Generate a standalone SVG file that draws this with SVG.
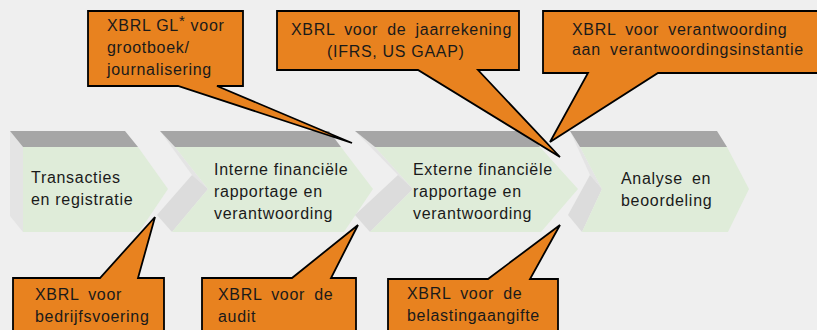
<svg xmlns="http://www.w3.org/2000/svg" width="817" height="330" viewBox="0 0 817 330">
  <style>
    .band { fill: #a6a6a6; }
    .side { fill: #dcdcdc; }
    .side-lt { fill: #e4e4e4; }
    .face { fill: #dfecd9; }
    .label { font-family: "Liberation Sans", Arial, sans-serif; font-size: 16px; fill: #1a1a1a; letter-spacing: 0.7px; }
    .callout { fill: #e8821f; stroke: #000; stroke-width: 1.8; stroke-linejoin: miter; }
    .gap { word-spacing: 4px; }
  </style>

  <rect width="817" height="330" fill="#efefef"/>

  <!-- process chevrons -->
  <g id="step-transacties">
    <polygon class="side-lt" points="10,131 23,147 23,232 10,216"/>
    <polygon class="band" points="10,131 125,131 138,147 23,147"/>
    <polygon class="face" points="23,147 138,147 168,189 139,232 23,232"/>
    <text class="label" x="31" y="183">Transacties</text>
    <text class="label" x="31" y="205">en registratie</text>
  </g>

  <g id="step-intern">
    <polygon class="side-lt" points="160,131 175,147 208,189 192,175"/>
    <polygon class="side" points="192,175 208,189 172,232 157,215"/>
    <polygon class="band" points="160,131 329,131 341,147 175,147"/>
    <polygon class="face" points="175,147 341,147 373,189 344,232 172,232 208,189"/>
    <text class="label" x="214" y="175">Interne financiële</text>
    <text class="label" x="214" y="197">rapportage en</text>
    <text class="label" x="214" y="219">verantwoording</text>
  </g>

  <g id="step-extern">
    <polygon class="side-lt" points="355,131 375,147 413,189 398,175"/>
    <polygon class="side" points="398,175 413,189 370,232 355,215"/>
    <polygon class="band" points="355,131 529,131 540,147 375,147"/>
    <polygon class="face" points="375,147 540,147 578,189 541,232 370,232 413,189"/>
    <text class="label" x="413" y="175">Externe financiële</text>
    <text class="label" x="413" y="197">rapportage en</text>
    <text class="label" x="413" y="219">verantwoording</text>
  </g>

  <g id="step-analyse">
    <polygon class="side-lt" points="570,131 580,147 602,189 590,175"/>
    <polygon class="side" points="590,175 602,189 582,232 568,215"/>
    <polygon class="band" points="570,131 717,131 727,147 580,147"/>
    <polygon class="face" points="580,147 727,147 749,189 728,232 582,232 602,189"/>
    <text class="label" x="621" y="184"><tspan class="gap">Analyse en</tspan></text>
    <text class="label" x="621" y="206">beoordeling</text>
  </g>

  <!-- callouts with pointers -->
  <g id="connectors">
    <g id="note-gl">
      <path class="callout" d="M88,11 H243 V86 H217 L352,143 L178,86 H88 Z"/>
      <text class="label" x="107" y="31">XBRL GL<tspan dy="-5" font-size="15">*</tspan><tspan dy="5"> voor</tspan></text>
      <text class="label" x="107" y="53">grootboek/</text>
      <text class="label" x="107" y="75">journalisering</text>
    </g>

    <g id="note-jaarrekening">
      <path class="callout" d="M277,11 H519 V70 H478 L560,157 L418,70 H277 Z"/>
      <text class="label gap" x="291" y="35">XBRL voor de jaarrekening</text>
      <text class="label" x="327" y="57">(IFRS, US GAAP)</text>
    </g>

    <g id="note-instantie">
      <path class="callout" d="M543,11 H822 V73 H658 L550,142 L588,73 H543 Z"/>
      <text class="label gap" x="572" y="35">XBRL voor verantwoording</text>
      <text class="label gap" x="572" y="55">aan verantwoordingsinstantie</text>
    </g>

    <g id="note-bedrijfsvoering">
      <path class="callout" d="M13,278 H100 L155,217 L138,278 H164 V336 H13 Z"/>
      <text class="label gap" x="35" y="300">XBRL voor</text>
      <text class="label" x="35" y="322">bedrijfsvoering</text>
    </g>

    <g id="note-audit">
      <path class="callout" d="M202,278 H292 L358,225 L331,278 H356 V336 H202 Z"/>
      <text class="label gap" x="218" y="300">XBRL voor de</text>
      <text class="label" x="218" y="322">audit</text>
    </g>

    <g id="note-belasting">
      <path class="callout" d="M388,279 H488 L560,225 L530,279 H558 V336 H388 Z"/>
      <text class="label gap" x="407" y="299">XBRL voor de</text>
      <text class="label" x="407" y="321">belastingaangifte</text>
    </g>
  </g>
</svg>
